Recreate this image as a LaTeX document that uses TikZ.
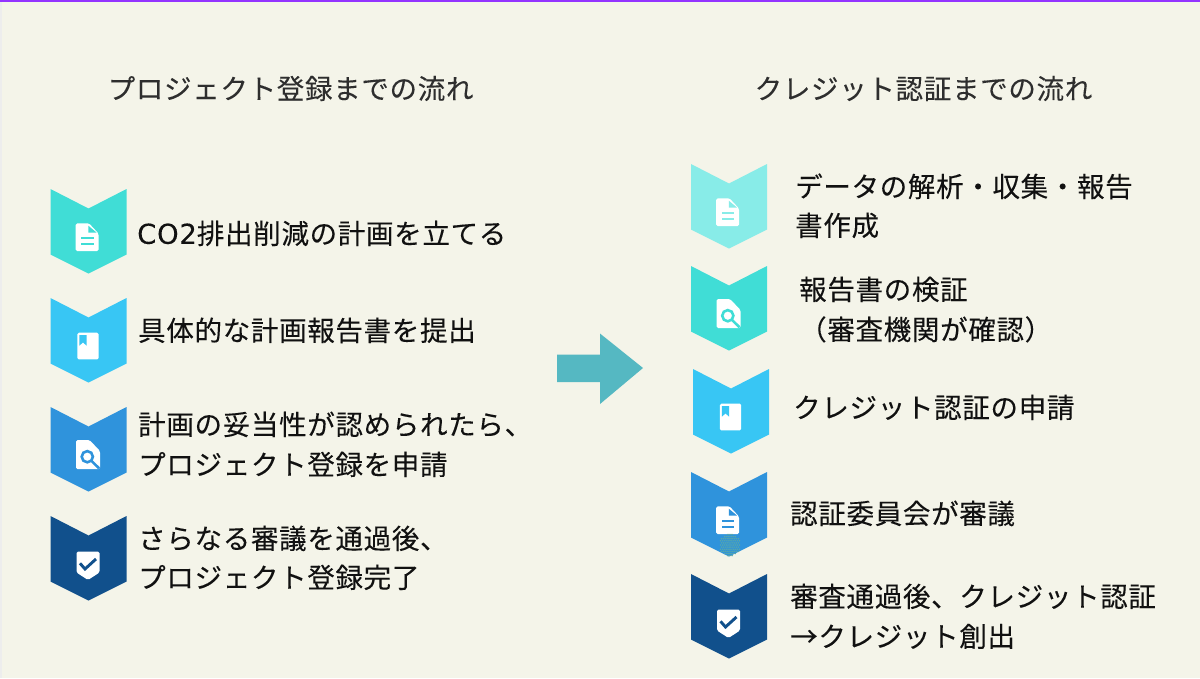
\documentclass[tikz,border=0pt]{standalone}
\usepackage{fontspec}
\setmainfont[LetterSpace=2.5,FakeBold=0.12]{Noto Sans CJK JP}
\newfontfamily\latinf[LetterSpace=2.5,FakeBold=0.12]{DejaVu Sans}
\definecolor{bgc}{HTML}{F4F4E9}
\definecolor{cTeal}{HTML}{40DDD6}
\definecolor{cPale}{HTML}{88ECE8}
\definecolor{cSky}{HTML}{38C6F4}
\definecolor{cBlue}{HTML}{2F93DC}
\definecolor{cNavy}{HTML}{11508C}
\definecolor{cArrow}{HTML}{55B8C2}
\definecolor{cDots}{HTML}{58A8A8}
\definecolor{cBar}{HTML}{9333FF}
\definecolor{cTxt}{HTML}{111111}
\tikzset{
  x=1pt,y=-1pt,
  title/.style={anchor=west,inner sep=0pt,font=\fontsize{27.5}{30}\selectfont,text=black!82},
  body/.style={anchor=west,inner sep=0pt,font=\fontsize{27.5}{30}\selectfont,text=cTxt},
  iconfill/.style={fill=white,draw=none},
}
% #1 x left, #2 y top, #3 colour, #4 icon name
\newcommand{\chev}[4]{%
  \begin{scope}[shift={(#1,#2)}]
    \fill[#3] (0,0) -- (38,19.5) -- (76,0) -- (76,65.5) -- (38,84.5) -- (0,65.5) -- cycle;
    \csname icon#4\endcsname{#3}
  \end{scope}}
\newcommand{\icondoc}[1]{%
  \fill[iconfill,rounded corners=1.5] (25.2,34.3) -- (38.5,34.3) -- (48,44.5) -- (48,62) -- (25.2,62) -- cycle;
  \fill[#1] (37.8,36.7) -- (46,43.5) -- (37.8,43.5) -- cycle;
  \fill[#1] (30.5,48.3) rectangle (43,50.2);
  \fill[#1] (30.5,53.8) rectangle (43,55.8);}
\newcommand{\iconbook}[1]{%
  \fill[iconfill,rounded corners=1.5] (26.8,34.7) rectangle (48.2,61.3);
  \fill[#1] (28.8,37) -- (36.2,37) -- (36.2,47.7) -- (32.5,44.5) -- (28.8,47.7) -- cycle;}
\newcommand{\iconsearch}[1]{%
  \fill[iconfill,rounded corners=1.5] (25.5,33) -- (39,33) -- (49.5,44) -- (49.5,62) -- (25.5,62) -- cycle;
  \draw[#1,line width=2.6] (36.8,49.7) circle (5.6);
  \draw[#1,line width=2.6] (41,53.9) -- (48.5,61.3);}
\newcommand{\iconshield}[1]{%
  \fill[iconfill,rounded corners=1.5] (26,35.7) -- (49,35.7) -- (49,56.5) -- (37.5,64) -- (26,56.5) -- cycle;
  \draw[#1,line width=2.9] (29.5,47.3) -- (34.5,53) -- (45.5,43);}
\begin{document}
\begin{tikzpicture}
\useasboundingbox (0,0) rectangle (1200,678);
\fill[bgc] (0,0) rectangle (1200,678);
\fill[black!7] (0,2) rectangle (2,678);
\fill[cBar] (0,0) rectangle (1200,2);

\node[title] (t1) at (107.5,88.5) {プロジェクト登録までの流れ};
\node[title] (t2) at (754.5,88.5) {クレジット認証までの流れ};

\chev{50.5}{189}{cTeal}{doc}
\chev{50.5}{298}{cSky}{book}
\chev{50.5}{407}{cBlue}{search}
\chev{50.5}{516}{cNavy}{shield}

\chev{691}{164}{cPale}{doc}
\chev{691}{266}{cTeal}{search}
\chev{693}{369}{cSky}{book}
\chev{691}{472}{cBlue}{doc}
\chev{691}{574}{cNavy}{shield}

% stippled patch on the fourth right-hand chevron
\foreach \i in {-5,...,5}{\foreach \j in {-5,...,5}{
  \pgfmathsetmacro{\dx}{\i*2.1+0.5*mod(\j+5,2)*2.1}
  \pgfmathsetmacro{\dy}{\j*2.1}
  \pgfmathtruncatemacro{\inside}{(\dx*\dx/110+\dy*\dy/121)<1 ? 1 : 0}
  \ifnum\inside=1 \fill[cDots] (730+\dx,545+\dy) circle (0.9);\fi}}

\fill[cArrow] (557,354.5) -- (600,354.5) -- (600,333.5) -- (643,368) -- (600,404) -- (600,382) -- (557,382) -- cycle;

\node[body] (a1) at (137,233.4) {{\latinf CO2}排出削減の計画を立てる};
\node[body] (a2) at (138,330.4) {具体的な計画報告書を提出};
\node[body] (a3) at (138,424.4) {計画の妥当性が認められたら、};
\node[body] (a3b) at (138,464.4) {プロジェクト登録を申請};
\node[body] (a4) at (138,538.4) {さらなる審議を通過後、};
\node[body] (a4b) at (138,577.4) {プロジェクト登録完了};

\node[body] (b1) at (795,186.4) {データの解析・収集・報告};
\node[body] (b1b) at (795,225.4) {書作成};
\node[body] (b2) at (799,289.4) {報告書の検証};
\node[body] (b2b) at (799,329.4) {（審査機関が確認）};
\node[body] (b3) at (793,407.4) {クレジット認証の申請};
\node[body] (b4) at (790,513.4) {認証委員会が審議};
\node[body] (b5) at (790,596.4) {審査通過後、クレジット認証};
\node[body] (b5b) at (790,636.4) {→クレジット創出};
\end{tikzpicture}
\end{document}
